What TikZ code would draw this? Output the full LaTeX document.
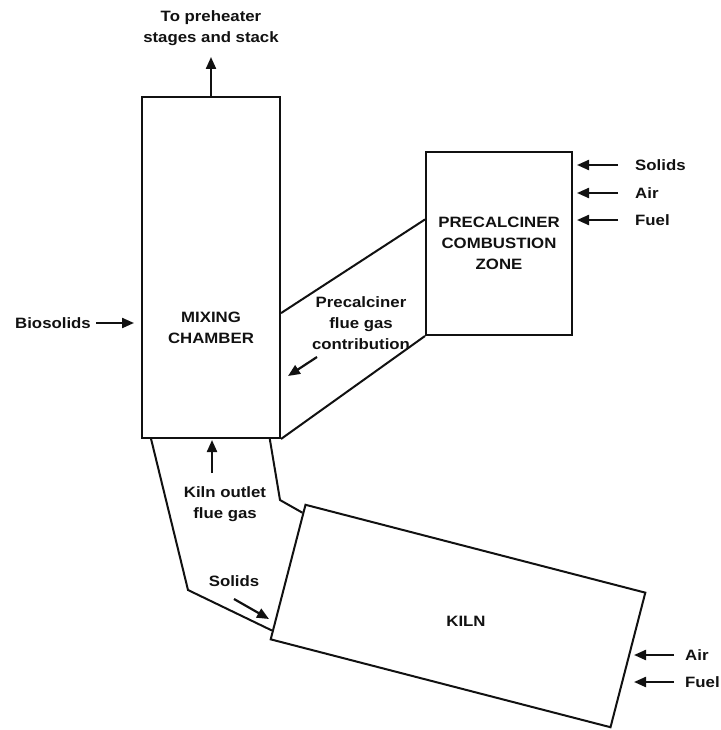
\documentclass[tikz,border=0pt]{standalone}
\usepackage{fontspec}
\setmainfont{Liberation Sans}[FakeStretch=1.12]
\usepackage{xcolor}
\definecolor{cInk}{HTML}{111111}
\usepackage{tikz}
\usetikzlibrary{positioning,arrows.meta,calc}
\tikzset{
  node-unit/.style={draw=cInk,line width=2pt,inner sep=0pt},
  node-label/.style={font=\bfseries\fontsize{15}{21}\selectfont,text=cInk,
    align=center,inner sep=1pt},
  arrow-flow/.style={-{Triangle[length=12pt,width=10pt]},line width=2.2pt,draw=cInk},
  duct/.style={draw=cInk,line width=2pt,line join=miter},
}

\begin{document}
\begin{tikzpicture}[x=1pt,y=-1pt]
  \useasboundingbox (0,0) rectangle (720,730);
  % units
  \node[node-unit,minimum width=138pt,minimum height=341pt] (mix) at (211,267.5) {};
  \node[node-unit,minimum width=146pt,minimum height=183pt] (pcz) at (499,243.5) {};
  \node[node-unit,minimum width=351pt,minimum height=139pt,rotate=-14.5] (kiln) at (458,616) {};
  \node[node-label] (mixtext) at (211,328) {MIXING\\CHAMBER};
  \node[node-label] (pcztext) at (pcz) {PRECALCINER\\COMBUSTION\\ZONE};
  \node[node-label] (kilntext) at (466,621) {KILN};

  % ducts
  \coordinate (mixup) at ($(mix.north east)!0.633!(mix.south east)$);
  \coordinate (pczup) at ($(pcz.north west)!0.37!(pcz.south west)$);
  \draw[duct] (mixup) -- (pczup);
  \draw[duct] (mix.south east) -- (pcz.south west);
  \coordinate (ductL) at ($(mix.south west)!0.072!(mix.south east)$);
  \coordinate (ductR) at ($(mix.south west)!0.92!(mix.south east)$);
  \coordinate (bendL) at (188,590);
  \coordinate (bendR) at (280,500);
  \coordinate (kilnL) at ($(kiln.north west)!0.93!(kiln.south west)$);
  \coordinate (kilnR) at ($(kiln.north west)!0.067!(kiln.south west)$);
  \draw[duct] (ductL) -- (bendL) -- (kilnL);
  \draw[duct] (ductR) -- (bendR) -- (kilnR);

  % streams
  \node[node-label,anchor=south] (stack) at (211,47) {To preheater\\stages and stack};
  \draw[arrow-flow,shorten >=10pt] (mix.north) -- (stack.south);
  \node[node-label,anchor=east] (bio) at (92,323) {Biosolids};
  \draw[arrow-flow,shorten <=4pt,shorten >=7pt] (bio.east) -- (bio.east -| mix.west);
  \foreach \nm/\txt/\yy in {pcsol/Solids/165,pcair/Air/193,pcfuel/Fuel/220}{
    \node[node-label,anchor=west] (\nm) at (634,\yy) {\txt};
    \draw[arrow-flow,shorten <=16pt,shorten >=4pt] (\nm.west) -- (\nm.west -| pcz.east);
  }
  \foreach \nm/\txt/\yy in {kair/Air/655,kfuel/Fuel/682}{
    \node[node-label,anchor=west] (\nm) at (684,\yy) {\txt};
    \coordinate (\nm-in) at (634,\yy);
    \draw[arrow-flow,shorten <=10pt] (\nm.west) -- (\nm-in);
  }
  \node[node-label] (pcflue) at (361,323) {Precalciner\\flue gas\\contribution};
  \coordinate (pcflue-a) at (317,357);
  \coordinate (pcflue-b) at (288,376);
  \draw[arrow-flow] (pcflue-a) -- (pcflue-b);
  \node[node-label] (kout) at (225,504) {Kiln outlet\\flue gas};
  \coordinate (kout-a) at (212,473);
  \draw[arrow-flow,shorten >=1pt] (kout-a) -- (kout-a |- mix.south);
  \node[node-label] (dsol) at (234,581) {Solids};
  \coordinate (dsol-a) at (234,599);
  \coordinate (dsol-b) at (269,619);
  \draw[arrow-flow] (dsol-a) -- (dsol-b);
\end{tikzpicture}
\end{document}
